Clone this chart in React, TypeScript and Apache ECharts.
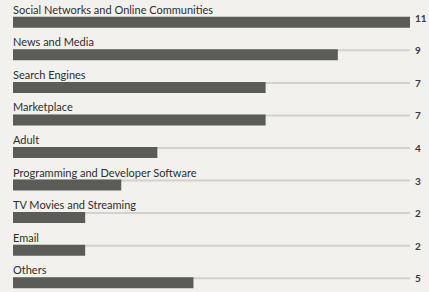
import React, { useEffect, useRef } from "react";
import * as echarts from "echarts";

const categories = [
  "Social Networks and Online Communities",
  "News and Media",
  "Search Engines",
  "Marketplace",
  "Adult",
  "Programming and Developer Software",
  "TV Movies and Streaming",
  "Email",
  "Others",
];
const values = [11, 9, 7, 7, 4, 3, 2, 2, 5];
const axisMax = 11;

export default function App() {
  const ref = useRef<HTMLDivElement>(null);
  useEffect(() => {
    document.body.style.margin = "0";
    document.body.style.overflow = "hidden";
    const chart = echarts.init(ref.current!, null, { renderer: "svg" });
    chart.setOption({
      animation: false,
      backgroundColor: "#f3f1ee",
      grid: { left: 13, right: 19, top: 6, bottom: 1, containLabel: false },
      xAxis: { type: "value", min: 0, max: axisMax, show: false },
      yAxis: {
        type: "category",
        data: categories,
        inverse: true,
        show: false,
      },
      series: [
        {
          type: "bar",
          data: values.map(() => axisMax),
          barWidth: 2,
          barGap: "-100%",
          itemStyle: { color: "#d3d1cd" },
          silent: true,
          z: 1,
          label: {
            show: true,
            position: "right",
            distance: 5,
            formatter: (p: any) => String(values[p.dataIndex]),
            fontFamily: "Lato",
            fontSize: 10,
            fontWeight: "bold",
            color: "#3a3a38",
          },
        },
        {
          type: "bar",
          data: values,
          barWidth: 11,
          itemStyle: { color: "#5b5c58" },
          z: 2,
          label: {
            show: true,
            position: [0, -13],
            formatter: (p: any) => p.name,
            fontFamily: "Lato",
            fontSize: 11,
            color: "#2e2e2c",
          },
        },
      ],
    });
    return () => chart.dispose();
  }, []);
  return (
    <div
      ref={ref}
      style={{ position: "absolute", left: 0, top: 0, width: 429, height: 300 }}
    />
  );
}
